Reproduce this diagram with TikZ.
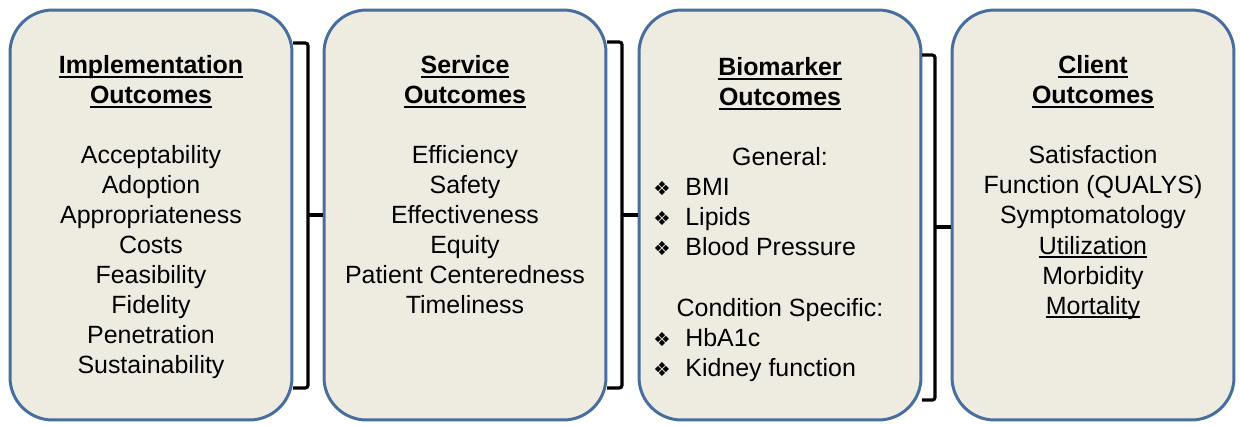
\documentclass[tikz,border=0pt]{standalone}
\usepackage{fontspec}
\setmainfont{Liberation Sans}
\newfontfamily\symfont{DejaVu Sans}
\definecolor{boxfill}{HTML}{EEECE1}
\definecolor{boxline}{HTML}{476E9E}
% underlined text: thick rule for headings, thin rule for items
\newcommand\headul[1]{\sbox0{#1}\rlap{\rule[-3.0pt]{\wd0}{1.3pt}}\usebox0}
\newcommand\itemul[1]{\sbox0{#1}\rlap{\rule[-2.0pt]{\wd0}{0.6pt}}\usebox0}
\newcommand\dmd{{\symfont\fontsize{11pt}{12pt}\selectfont\char"2756}}
\begin{document}
\begin{tikzpicture}[x=0.02cm,y=-0.02cm,
  outbox/.style={draw=boxline,fill=boxfill,line width=1.7pt,rounded corners=0.85cm,
    minimum width=5.64cm,minimum height=8.2cm,inner sep=0pt},
  txt/.style={anchor=base,inner sep=0pt,font=\fontsize{14.2pt}{17pt}\selectfont},
  head/.style={txt,font=\fontsize{14.2pt}{17pt}\selectfont\bfseries},
  lft/.style={txt,anchor=base west},
  bul/.style={anchor=base,inner sep=0pt},
  brk/.style={draw=black,line width=1.8pt,rounded corners=1.5pt}]
\useasboundingbox (0,0) rectangle (1240,424);

% the four outcome boxes
\node[outbox] (b1) at (151,215) {};
\node[outbox] (b2) at (465,215) {};
\node[outbox] (b3) at (780,215) {};
\node[outbox] (b4) at (1093,215) {};

% brackets joining neighbouring boxes
\coordinate (k1t) at (293,43);  \coordinate (k1b) at (293,388); \coordinate (k1m) at (308,215);
\coordinate (k2t) at (607,42);  \coordinate (k2b) at (607,388); \coordinate (k2m) at (622,215);
\coordinate (k3t) at (922,55);  \coordinate (k3b) at (922,400); \coordinate (k3m) at (935,227);
\draw[brk] (k1t) -| (k1m) |- (k1b);  \draw[brk] (k1m) -- (k1m -| b2.west);
\draw[brk] (k2t) -| (k2m) |- (k2b);  \draw[brk] (k2m) -- (k2m -| b3.west);
\draw[brk] (k3t) -| (k3m) |- (k3b);  \draw[brk] (k3m) -- (k3m -| b4.west);

% Implementation outcomes
\node[head] (h1a) at (151,73)  {\headul{Implementation}};
\node[head] (h1b) at (151,103) {\headul{Outcomes}};
\foreach \t [count=\i from 0] in {Acceptability,Adoption,Appropriateness,Costs,Feasibility,Fidelity,Penetration,Sustainability}
  \node[txt] (a\i) at (151,163+30*\i) {\t};

% Service outcomes
\node[head] (h2a) at (465,73)  {\headul{Service}};
\node[head] (h2b) at (465,103) {\headul{Outcomes}};
\foreach \t [count=\i from 0] in {Efficiency,Safety,Effectiveness,Equity,Patient Centeredness,Timeliness}
  \node[txt] (s\i) at (465,163+30*\i) {\t};

% Biomarker outcomes
\node[head] (h3a) at (780,75)  {\headul{Biomarker}};
\node[head] (h3b) at (780,105) {\headul{Outcomes}};
\node[txt] (g0) at (780,165) {General:};
\foreach \t [count=\i from 0] in {BMI,Lipids,Blood Pressure}{
  \node[bul] (gb\i) at (662,195+30*\i) {\dmd};
  \node[lft] (g\i) at (685,195+30*\i) {\t};}
\node[txt] (c0) at (780,316) {Condition Specific:};
\foreach \t [count=\i from 0] in {HbA1c,Kidney function}{
  \node[bul] (cb\i) at (662,346+30*\i) {\dmd};
  \node[lft] (c\i) at (685,346+30*\i) {\t};}

% Client outcomes
\node[head] (h4a) at (1093,73)  {\headul{Client}};
\node[head] (h4b) at (1093,103) {\headul{Outcomes}};
\node[txt] (l0) at (1093,163) {Satisfaction};
\node[txt] (l1) at (1093,193) {Function (QUALYS)};
\node[txt] (l2) at (1093,223) {Symptomatology};
\node[txt] (l3) at (1093,254) {\itemul{Utilization}};
\node[txt] (l4) at (1093,284) {Morbidity};
\node[txt] (l5) at (1093,314) {\itemul{Mortality}};
\end{tikzpicture}
\end{document}
